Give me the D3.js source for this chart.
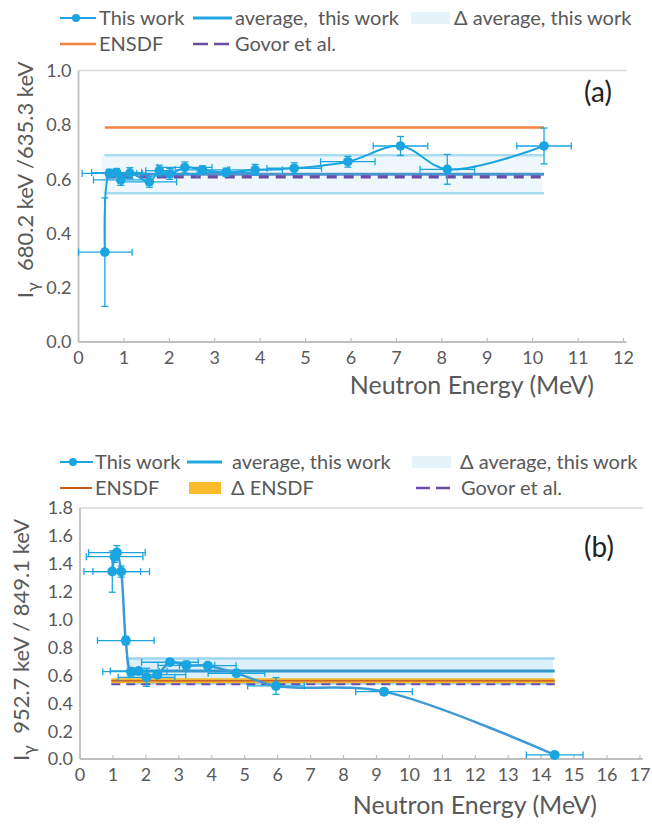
<!DOCTYPE html>
<html>
<head>
<meta charset="utf-8">
<script src="https://cdn.jsdelivr.net/npm/d3@7"></script>
<style>
  html, body { margin: 0; padding: 0; background: #fff; }
  svg { display: block; font-family: Lato, "Open Sans", sans-serif; }
  text { fill: #595959; }
</style>
</head>
<body>
<svg id="chart" width="652" height="826"></svg>
<script>
// ---- Panel (a): I(680.2 keV) / I(635.3 keV) ----
const energyA = [0.58, 0.68, 0.84, 0.93, 1.13, 1.56, 1.78, 2.01, 2.34, 2.73, 3.25, 3.89, 4.75, 5.93, 7.09, 8.12, 10.25];
const ratioA  = [0.331, 0.621, 0.624, 0.597, 0.622, 0.590, 0.631, 0.619, 0.643, 0.634, 0.625, 0.634, 0.640, 0.664, 0.722, 0.636, 0.722];
const dEnergyA = [0.6, 0.6, 0.55, 0.6, 0.35, 0.6, 0.3, 0.6, 0.6, 0.6, 0.6, 0.6, 0.6, 0.6, 0.6, 0.6, 0.6];
const dRatioA  = [0.2, 0.015, 0.015, 0.02, 0.02, 0.02, 0.02, 0.02, 0.02, 0.015, 0.015, 0.02, 0.02, 0.02, 0.035, 0.055, 0.066];
const averageA = 0.618, averageDeltaA = 0.07;
const ensdfA = 0.79;
const govorA = 0.608;
const xTicksA = d3.range(0, 13, 1);
const yTicksA = [0, 0.2, 0.4, 0.6, 0.8, 1.0];

// ---- Panel (b): I(952.7 keV) / I(849.1 keV) ----
const energyB = [0.98, 1.05, 1.12, 1.25, 1.39, 1.55, 1.78, 2.02, 2.35, 2.73, 3.23, 3.88, 4.75, 5.95, 9.23, 14.41];
const ratioB  = [1.344, 1.451, 1.48, 1.344, 0.849, 0.626, 0.631, 0.586, 0.605, 0.694, 0.672, 0.669, 0.615, 0.524, 0.483, 0.029];
const dEnergyB = [0.86, 0.86, 0.86, 0.86, 0.86, 0.86, 0.86, 0.86, 0.86, 0.86, 0.86, 0.86, 0.86, 0.86, 0.86, 0.86];
const dRatioB  = [0.148, 0.04, 0.05, 0.04, 0.03, 0.03, 0.02, 0.065, 0.02, 0.02, 0.03, 0.02, 0.02, 0.06, 0.02, 0.02];
const averageB = 0.631, averageDeltaB = 0.09;
const ensdfB = 0.561, ensdfDeltaB = 0.018;
const govorB = 0.536;
const xTicksB = d3.range(0, 18, 1);
const yTicksB = [0, 0.2, 0.4, 0.6, 0.8, 1.0, 1.2, 1.4, 1.6, 1.8];

const svg = d3.select("#chart");
const axisGray = "#BFBFBF";
const dotBlue = "#1BA5E0";

function drawFrame(g, x, y, xTicks, yTicks, xMax, yMax) {
  const x0 = x.range()[0], x1 = x(xMax) + 3;
  const y0 = y.range()[0], y1 = y(yMax);
  g.append("line").attr("x1", x0).attr("x2", x1).attr("y1", y1).attr("y2", y1)
    .attr("stroke", "#D9D9D9").attr("stroke-width", 1.5);
  g.append("line").attr("x1", x0).attr("x2", x0).attr("y1", y1).attr("y2", y0)
    .attr("stroke", axisGray).attr("stroke-width", 1.8);
  g.append("line").attr("x1", x0).attr("x2", x1).attr("y1", y0).attr("y2", y0)
    .attr("stroke", axisGray).attr("stroke-width", 1.8);
  g.selectAll(".xt").data(xTicks).enter().append("line")
    .attr("x1", d => x(d)).attr("x2", d => x(d)).attr("y1", y0 - 4).attr("y2", y0)
    .attr("stroke", axisGray).attr("stroke-width", 1.2);
  g.selectAll(".xl").data(xTicks).enter().append("text")
    .attr("x", d => x(d)).attr("y", y0 + 22)
    .attr("text-anchor", "middle").attr("font-size", 18)
    .text(d => d);
  g.selectAll(".yl").data(yTicks).enter().append("text")
    .attr("x", x0 - 7).attr("y", d => y(d)).attr("dy", "0.36em")
    .attr("text-anchor", "end").attr("font-size", 18)
    .text(d => d.toFixed(1));
}

function drawErrorBars(g, x, y, E, R, dE, dR) {
  const cap = 3.5;
  const eb = g.append("g").attr("stroke", dotBlue).attr("stroke-width", 1.3).attr("fill", "none");
  E.forEach((e, i) => {
    const px = x(e), py = y(R[i]);
    const xl = x(Math.max(e - dE[i], 0)), xr = x(e + dE[i]);
    eb.append("line").attr("x1", xl).attr("x2", xr).attr("y1", py).attr("y2", py);
    eb.append("line").attr("x1", xl).attr("x2", xl).attr("y1", py - cap).attr("y2", py + cap);
    eb.append("line").attr("x1", xr).attr("x2", xr).attr("y1", py - cap).attr("y2", py + cap);
    const yt = y(R[i] + dR[i]), yb = y(Math.max(R[i] - dR[i], 0));
    eb.append("line").attr("x1", px).attr("x2", px).attr("y1", yt).attr("y2", yb);
    eb.append("line").attr("x1", px - cap).attr("x2", px + cap).attr("y1", yt).attr("y2", yt);
    eb.append("line").attr("x1", px - cap).attr("x2", px + cap).attr("y1", yb).attr("y2", yb);
  });
}

function hLine(g, x, y, e0, e1, v, color, width, dash) {
  const l = g.append("line").attr("x1", x(e0)).attr("x2", x(e1))
    .attr("y1", y(v)).attr("y2", y(v))
    .attr("stroke", color).attr("stroke-width", width);
  if (dash) l.attr("stroke-dasharray", dash);
  return l;
}

function yTitle(g, cx, cy, label) {
  const t = g.append("text").attr("transform", `translate(${cx},${cy}) rotate(-90)`)
    .attr("text-anchor", "middle").attr("font-size", 22);
  t.append("tspan").text("I");
  t.append("tspan").attr("dy", 6).attr("font-size", 18).text("γ");
  t.append("tspan").attr("dy", -6).text("\u00A0 " + label);
}

// ================= Panel (a) =================
{
  const g = svg.append("g");
  const x = d3.scaleLinear().domain([0, 12]).range([78.5, 623.5]);
  const y = d3.scaleLinear().domain([0, 1]).range([342, 70.5]);
  drawFrame(g, x, y, xTicksA, yTicksA, 12, 1.0);

  const eEnd = energyA[energyA.length - 1];
  // uncertainty band of the average
  g.append("rect").attr("x", x(0.51)).attr("width", x(eEnd - 0.05) - x(0.51))
    .attr("y", y(averageA + averageDeltaA)).attr("height", y(averageA - averageDeltaA) - y(averageA + averageDeltaA))
    .attr("fill", "#EEF8FC");
  hLine(g, x, y, 0.57, eEnd, averageA + averageDeltaA, "#A8DCF0", 2.5);
  hLine(g, x, y, 0.57, eEnd, averageA - averageDeltaA, "#A8DCF0", 2.5);
  hLine(g, x, y, 0.58, eEnd, ensdfA, "#F4833D", 2.5);
  hLine(g, x, y, 0.6, eEnd, averageA, "#4B95CE", 3);
  hLine(g, x, y, 0.6, eEnd, govorA, "#6A4DA8", 3.2, "10,7");

  const pts = energyA.map((e, i) => [x(e), y(ratioA[i])]);
  g.append("path").attr("d", d3.line().curve(d3.curveCatmullRom.alpha(0.5))(pts))
    .attr("fill", "none").attr("stroke", dotBlue).attr("stroke-width", 2);
  drawErrorBars(g, x, y, energyA, ratioA, dEnergyA, dRatioA);
  g.selectAll(".pt").data(pts).enter().append("circle")
    .attr("cx", d => d[0]).attr("cy", d => d[1]).attr("r", 4.8).attr("fill", dotBlue);

  g.append("text").attr("x", 598).attr("y", 102).attr("text-anchor", "middle")
    .attr("font-size", 28).style("fill", "#222").text("(a)");
  g.append("text").attr("x", 594).attr("y", 394).attr("text-anchor", "end")
    .attr("font-size", 25).text("Neutron Energy (MeV)");
  yTitle(g, 33, 180, "680.2 keV /635.3 keV");

  // legend
  const L = svg.append("g").attr("font-size", 20);
  const r1 = 18, r2 = 44;
  L.append("line").attr("x1", 60).attr("x2", 96).attr("y1", r1).attr("y2", r1).attr("stroke", dotBlue).attr("stroke-width", 2);
  L.append("circle").attr("cx", 76).attr("cy", r1).attr("r", 4).attr("fill", dotBlue);
  L.append("text").attr("x", 99).attr("y", r1).attr("dy", "0.35em").text("This work");
  L.append("line").attr("x1", 193).attr("x2", 232).attr("y1", r1).attr("y2", r1).attr("stroke", "#22A7E0").attr("stroke-width", 3);
  L.append("text").attr("x", 235).attr("y", r1).attr("dy", "0.35em").text("average,\u00A0 this work");
  L.append("rect").attr("x", 411).attr("y", r1 - 6).attr("width", 39).attr("height", 12).attr("fill", "#E4F4FA");
  L.append("text").attr("x", 454).attr("y", r1).attr("dy", "0.35em").text("Δ average, this work");
  L.append("line").attr("x1", 60).attr("x2", 96).attr("y1", r2).attr("y2", r2).attr("stroke", "#F4833D").attr("stroke-width", 2.5);
  L.append("text").attr("x", 99).attr("y", r2).attr("dy", "0.35em").text("ENSDF");
  L.append("line").attr("x1", 193).attr("x2", 232).attr("y1", r2).attr("y2", r2).attr("stroke", "#6A4DA8").attr("stroke-width", 2.5).attr("stroke-dasharray", "15,6");
  L.append("text").attr("x", 235).attr("y", r2).attr("dy", "0.35em").text("Govor et al.");
}

// ================= Panel (b) =================
{
  const g = svg.append("g");
  const x = d3.scaleLinear().domain([0, 17]).range([80, 640]);
  const y = d3.scaleLinear().domain([0, 1.8]).range([759, 508]);
  drawFrame(g, x, y, xTicksB, yTicksB, 17, 1.8);

  const eEnd = energyB[energyB.length - 1];
  g.append("rect").attr("x", x(1.4)).attr("width", x(eEnd - 0.05) - x(1.4))
    .attr("y", y(averageB + averageDeltaB)).attr("height", y(averageB - averageDeltaB) - y(averageB + averageDeltaB))
    .attr("fill", "#DDEFF8");
  hLine(g, x, y, 1.4, eEnd, averageB + averageDeltaB, "#9ED4EE", 2.5);
  hLine(g, x, y, 1.4, eEnd, averageB - averageDeltaB, "#9ED4EE", 2.5);
  hLine(g, x, y, 1.4, eEnd, averageB, "#3399CC", 3);
  g.append("rect").attr("x", x(0.95)).attr("width", x(eEnd) - x(0.95))
    .attr("y", y(ensdfB + ensdfDeltaB)).attr("height", y(ensdfB - ensdfDeltaB) - y(ensdfB + ensdfDeltaB))
    .attr("fill", "#F2B731");
  hLine(g, x, y, 0.95, eEnd, ensdfB, "#C8622A", 1.5);
  hLine(g, x, y, 0.95, eEnd, govorB, "#6A4DA8", 2.2, "9,6");

  const pts = energyB.map((e, i) => [x(e), y(ratioB[i])]);
  g.append("path").attr("d", d3.line().curve(d3.curveCatmullRom.alpha(0.5))(pts))
    .attr("fill", "none").attr("stroke", "#3D9AD6").attr("stroke-width", 2.5);
  drawErrorBars(g, x, y, energyB, ratioB, dEnergyB, dRatioB);
  g.selectAll(".pt").data(pts).enter().append("circle")
    .attr("cx", d => d[0]).attr("cy", d => d[1]).attr("r", 5).attr("fill", dotBlue);

  g.append("text").attr("x", 599).attr("y", 557).attr("text-anchor", "middle")
    .attr("font-size", 28).style("fill", "#222").text("(b)");
  g.append("text").attr("x", 597).attr("y", 814).attr("text-anchor", "end")
    .attr("font-size", 25).text("Neutron Energy (MeV)");
  yTitle(g, 29, 640, "952.7 keV / 849.1 keV");

  const L = svg.append("g").attr("font-size", 20);
  const r1 = 462, r2 = 488;
  L.append("line").attr("x1", 60).attr("x2", 93).attr("y1", r1).attr("y2", r1).attr("stroke", dotBlue).attr("stroke-width", 2);
  L.append("circle").attr("cx", 73).attr("cy", r1).attr("r", 4).attr("fill", dotBlue);
  L.append("text").attr("x", 95).attr("y", r1).attr("dy", "0.35em").text("This work");
  L.append("line").attr("x1", 187).attr("x2", 222).attr("y1", r1).attr("y2", r1).attr("stroke", "#22A7E0").attr("stroke-width", 3);
  L.append("text").attr("x", 232).attr("y", r1).attr("dy", "0.35em").text("average, this work");
  L.append("rect").attr("x", 412).attr("y", r1 - 6).attr("width", 39).attr("height", 12).attr("fill", "#E4F4FA");
  L.append("text").attr("x", 460).attr("y", r1).attr("dy", "0.35em").text("Δ average, this work");
  L.append("line").attr("x1", 60).attr("x2", 92).attr("y1", r2).attr("y2", r2).attr("stroke", "#C55A11").attr("stroke-width", 2);
  L.append("text").attr("x", 95).attr("y", r2).attr("dy", "0.35em").text("ENSDF");
  L.append("rect").attr("x", 189).attr("y", r2 - 6).attr("width", 32).attr("height", 12).attr("fill", "#FBBC2C");
  L.append("text").attr("x", 231).attr("y", r2).attr("dy", "0.35em").text("Δ ENSDF");
  L.append("line").attr("x1", 416).attr("x2", 452).attr("y1", r2).attr("y2", r2).attr("stroke", "#6A4DA8").attr("stroke-width", 2.5).attr("stroke-dasharray", "14,6");
  L.append("text").attr("x", 461).attr("y", r2).attr("dy", "0.35em").text("Govor et al.");
}
</script>
</body>
</html>
